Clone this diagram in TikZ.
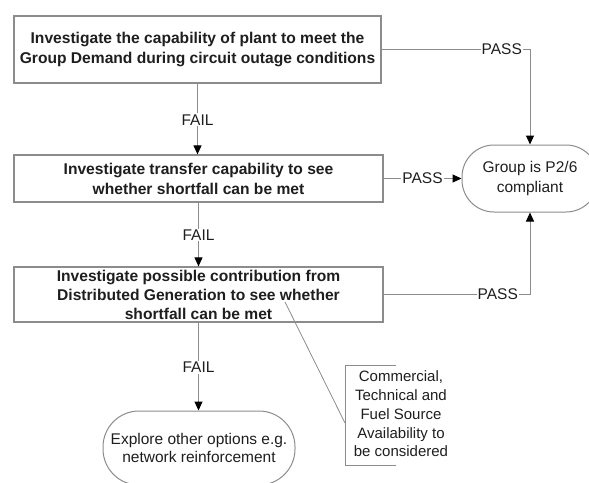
\documentclass[tikz,border=0pt]{standalone}
\usepackage{fontspec}
\setmainfont{Liberation Sans}
\usetikzlibrary{arrows.meta}
\definecolor{linegray}{RGB}{140,140,140}
\definecolor{textgray}{RGB}{30,30,30}

\begin{document}
\begin{tikzpicture}[x=1pt,y=-1pt,
		stepbox/.style={draw=linegray,line width=1.2pt,align=center,inner sep=0pt,text=textgray,font=\bfseries\fontsize{15.6}{20}\selectfont},
		endbox/.style={draw=linegray,line width=1pt,rounded corners=32pt,align=center,inner sep=0pt,text=textgray,font=\fontsize{15.5}{20}\selectfont},
		lbl/.style={fill=white,inner sep=1pt,text=textgray,font=\fontsize{15.5}{18}\selectfont},
		flow/.style={draw=linegray,line width=1pt,-{Triangle[length=9pt,width=8pt,color=black]}},
		wire/.style={draw=linegray,line width=1pt}]
		\clip (0,0) rectangle (589,482);
		% steps
		\node[stepbox,minimum width=367pt,minimum height=67pt] (plant) at (197.5,49.5) {Investigate the capability of plant to meet the\\Group Demand during circuit outage conditions};
		\node[stepbox,minimum width=369pt,minimum height=47pt] (transfer) at (198.5,178.5) {Investigate transfer capability to see\\whether shortfall can be met};
		\node[stepbox,minimum width=369pt,minimum height=55pt,font=\bfseries\fontsize{15.6}{19}\selectfont] (dg) at (198.5,294.5) {Investigate possible contribution from\\Distributed Generation to see whether\\shortfall can be met};
		% ends
		\node[endbox,minimum width=136pt,minimum height=67pt] (ok) at (530,178.5) {Group is P2/6\\compliant};
		\node[endbox,minimum width=192pt,minimum height=74pt,rounded corners=36pt,font=\fontsize{15.5}{18}\selectfont] (explore) at (199,448) {Explore other options e.g.\\network reinforcement};
		% note
		\node[align=center,inner sep=0pt,text=textgray,font=\fontsize{15}{18.7}\selectfont] (note) at (401,414) {Commercial,\\Technical and\\Fuel Source\\Availability to\\be considered};
		\coordinate (notetop) at (396,365);
		\coordinate (notebot) at (396,465);
		\coordinate (notein) at (345,423);
		\coordinate (dgpt) at (285,302);
		\draw[wire,line width=0.8pt] (notetop) -- (345,365) -- (345,465) -- (notebot);
		\draw[wire,line width=0.8pt] (dgpt) -- (notein);
		% fail
		\draw[flow] (plant.south) -- node[lbl,pos=0.51]{FAIL} (plant.south |- transfer.north);
		\draw[flow] (transfer.south) -- node[lbl,pos=0.51]{FAIL} (dg.south |- dg.north);
		\draw[flow] (dg.south) -- node[lbl,pos=0.51]{FAIL} (dg.south |- explore.north);
		% pass
		\draw[flow] (plant.east) -- node[lbl,pos=0.81]{PASS} (plant.east -| ok.north) -- (ok.north);
		\draw[flow] (transfer.east) -- node[lbl,pos=0.5]{PASS} (ok.west);
		\draw[flow] (dg.east) -- node[lbl,pos=0.78]{PASS} (dg.east -| ok.south) -- (ok.south);
	\end{tikzpicture}
\end{document}
